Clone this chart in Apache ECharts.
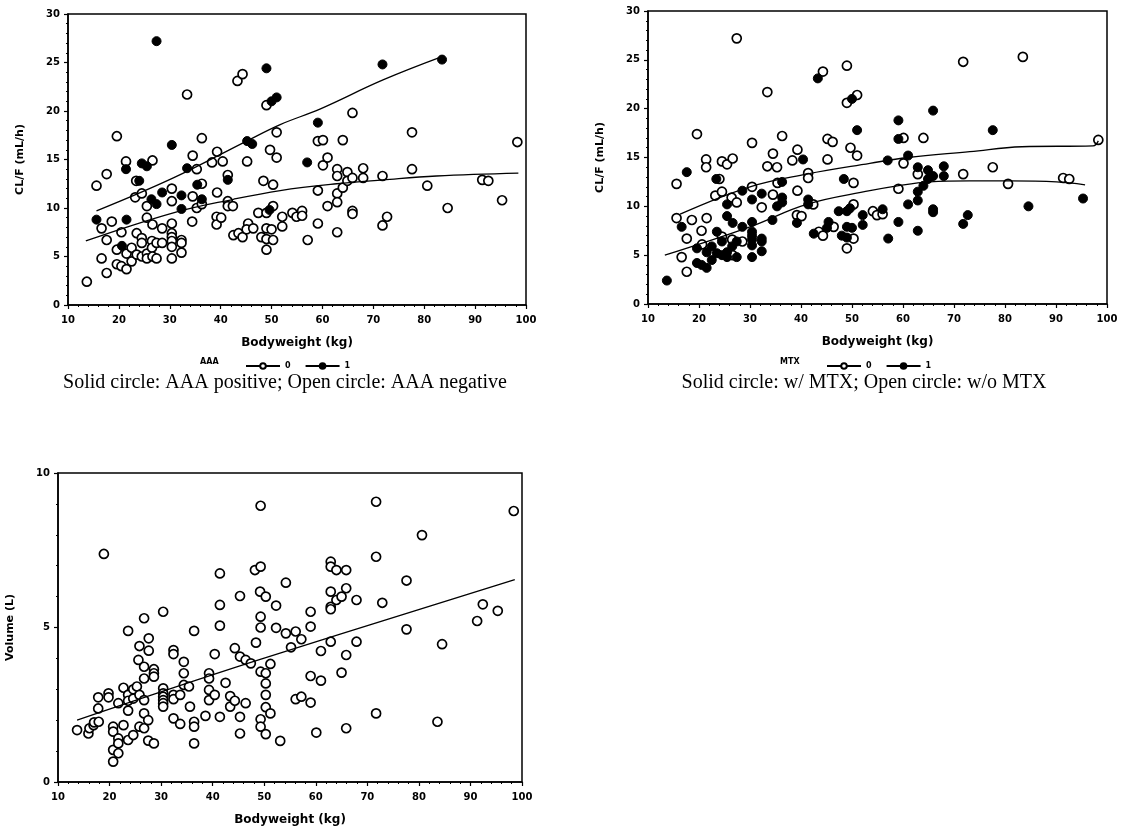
<!DOCTYPE html>
<html><head><meta charset="utf-8">
<script src="https://cdn.jsdelivr.net/npm/echarts@6/dist/echarts.min.js"></script>
<style>html,body{margin:0;padding:0;background:#fff}#c{width:1124px;height:827px}</style>
</head><body><div id="c"></div><script>
// ---- Clearance data (same patients in plot 1 and plot 2) ----
const bodyweight = [
  13.7,15.6,15.6,16.6,16.6,17.6,17.6,17.6,18.6,19.6,
  19.6,19.6,20.5,20.6,20.5,21.4,21.4,21.5,21.5,21.5,
  22.5,22.5,23.2,23.4,23.5,23.5,24.0,24.5,24.5,24.5,
  24.5,24.5,25.5,25.5,25.5,25.5,25.5,26.4,26.5,26.5,
  26.6,26.6,26.6,27.4,27.4,27.4,27.4,28.5,28.5,28.5,
  30.4,30.4,30.4,30.4,30.4,30.4,30.4,30.4,30.4,32.3,
  32.3,32.3,32.3,32.3,33.4,33.4,34.5,34.5,34.4,35.3,
  35.4,35.3,36.3,36.3,36.3,36.3,38.3,39.3,39.3,39.2,
  39.2,40.1,40.4,41.4,41.4,41.4,41.4,42.4,42.5,43.3,
  43.5,44.3,44.3,45.2,45.2,45.4,45.1,46.2,46.4,47.4,
  48.0,48.4,49.0,49.0,49.0,49.0,49.0,49.0,49.6,49.7,
  50.0,50.0,50.3,50.3,50.3,51.0,51.0,51.0,52.1,52.1,
  54.1,54.9,56.0,56.0,57.0,57.1,59.1,59.1,59.1,59.1,
  60.1,60.1,61.0,61.0,62.9,62.9,62.9,62.9,62.9,64.0,
  64.0,64.9,64.9,65.9,65.9,65.9,65.9,68.0,68.0,71.8,
  71.8,71.8,72.7,77.6,77.6,80.6,83.5,84.6,91.4,92.6,95.3,98.3
];
const clearance = [
  2.4,12.3,8.8,7.9,4.8,13.5,6.7,3.3,8.6,17.4,
  5.7,4.2,7.5,6.1,4.0,14.8,14.0,8.8,5.3,3.7,
  5.9,4.5,11.1,12.8,7.4,5.2,12.8,14.6,11.5,6.9,
  6.4,5.0,14.3,10.2,9.0,5.3,4.8,10.9,6.6,5.9,
  14.9,8.3,5.0,27.2,10.4,6.4,4.8,11.6,7.9,6.4,
  16.5,12.0,10.7,8.4,7.4,7.0,6.6,6.0,4.8,11.3,
  9.9,6.7,6.4,5.4,21.7,14.1,15.4,11.2,8.6,14.0,
  12.4,10.0,17.2,12.5,10.9,10.4,14.7,15.8,11.6,9.1,
  8.3,9.0,14.8,13.4,12.9,10.7,10.2,10.2,7.2,23.1,
  7.4,23.8,7.0,16.9,14.8,8.4,7.8,16.6,7.9,9.5,
  7.0,12.8,24.4,20.6,9.5,7.9,6.8,5.7,9.8,16.0,
  21.0,7.8,12.4,10.2,6.7,21.4,17.8,15.2,9.1,8.1,
  9.5,9.1,9.7,9.2,14.7,6.7,18.8,16.9,11.8,8.4,
  17.0,14.4,15.2,10.2,14.0,13.3,11.5,10.6,7.5,17.0,
  12.1,13.7,12.8,19.8,13.1,9.7,9.4,14.1,13.1,24.8,
  13.3,8.2,9.1,17.8,14.0,12.3,25.3,10.0,12.9,12.8,10.8,16.8
];
const aaaPositive = [
  0,0,1,0,0,0,0,0,0,0,
  0,0,0,1,0,0,1,1,0,0,
  0,0,0,0,0,0,1,1,0,0,
  0,0,1,0,0,0,0,1,0,0,
  0,0,0,1,1,0,0,1,0,0,
  1,0,0,0,0,0,0,0,0,1,
  1,0,0,0,0,1,0,0,0,0,
  1,0,0,0,1,0,0,0,0,0,
  0,0,0,0,1,0,0,0,0,0,
  0,0,0,1,0,0,0,1,0,0,
  0,0,1,0,0,0,0,0,1,0,
  1,0,0,0,0,1,0,0,0,0,
  0,0,0,0,1,0,1,0,0,0,
  0,0,0,0,0,0,0,0,0,0,
  0,0,0,0,0,0,0,0,0,1,
  0,0,0,0,0,0,1,0,0,0,0,0
];
const withMTX = [
  1,0,0,1,0,1,0,0,0,0,
  1,1,0,0,1,0,0,0,1,1,
  1,1,0,1,1,1,0,0,0,0,
  1,1,0,1,1,1,1,0,0,1,
  0,1,0,0,0,1,1,1,1,0,
  0,0,1,1,1,1,1,1,1,1,
  0,1,1,1,0,0,0,0,1,0,
  0,1,0,1,1,1,0,0,0,0,
  1,0,1,0,0,1,1,0,1,1,
  0,0,0,0,0,1,1,0,0,1,
  1,1,0,0,1,1,1,0,1,0,
  1,1,0,0,0,0,1,0,1,1,
  0,0,1,0,1,1,1,1,0,1,
  0,0,1,1,1,0,1,1,1,0,
  1,1,1,1,1,1,1,1,1,0,
  0,1,1,1,0,0,0,1,0,0,1,0
];
// fitted curves
const fitAAA0 = [[13.5,6.6],[30.7,9.5],[42.5,10.9],[51.7,11.8],[62.8,12.5],[71.9,12.9],[82.4,13.3],[98.5,13.6]];
const fitAAA1 = [[15.6,9.7],[30.7,13.1],[45.1,16.9],[51.7,18.6],[59.5,20.2],[71.9,23.2],[83.5,25.6]];
const fitMTX0 = [[16.3,9.2],[30.0,12.0],[41.1,13.3],[53.5,14.4],[60.9,15.0],[73.1,15.6],[83.3,16.1],[97.3,16.2],[98.3,16.7]];
const fitMTX1 = [[13.3,5.0],[30.0,7.9],[41.1,10.2],[53.5,11.6],[58.9,12.1],[65.2,12.5],[73.1,12.6],[80.8,12.6],[90.1,12.5],[95.7,12.2]];

// ---- Volume data (plot 3) ----
const volBodyweight = [
  13.7,15.9,16.1,16.9,17.0,17.9,17.8,17.8,18.9,19.8,19.8,20.7,20.7,20.7,20.7,21.7,21.7,21.7,21.7,22.7,
  22.7,23.6,23.6,23.6,23.6,23.6,24.6,24.6,24.6,25.3,25.6,25.8,25.8,25.8,26.7,26.7,26.7,26.7,26.7,26.7,
  27.5,27.5,27.6,27.6,28.6,28.6,28.6,28.6,30.4,30.4,30.4,30.4,30.4,30.4,30.4,32.4,32.4,32.4,32.4,32.4,
  33.7,33.7,34.4,34.4,34.4,35.4,35.6,36.4,36.4,36.4,36.4,38.6,39.3,39.3,39.3,39.3,40.4,40.4,41.4,41.4,
  41.4,41.4,42.5,43.4,43.4,44.3,44.3,45.3,45.3,45.3,45.3,46.4,46.4,47.4,48.2,48.4,49.3,49.3,49.2,49.3,
  49.3,49.3,49.3,49.3,50.3,50.3,50.3,50.3,50.3,50.3,51.2,51.2,52.3,52.3,53.1,54.2,54.2,55.2,56.1,56.1,
  57.2,57.2,59.0,59.0,59.0,59.0,60.1,61.0,61.0,62.9,62.9,62.9,62.9,62.9,62.9,64.0,64.0,65.0,65.0,65.9,
  65.9,65.9,65.9,67.9,67.9,71.7,71.7,71.7,72.9,77.6,77.6,80.6,83.6,84.5,91.3,92.4,95.3,98.4
];
const volume = [
  1.68,1.57,1.74,1.84,1.93,1.95,2.38,2.74,7.38,2.87,2.74,1.79,1.63,1.04,0.66,0.93,1.41,1.25,2.55,1.84,
  3.05,4.89,2.82,2.63,2.31,1.36,3.00,2.70,1.52,3.09,3.95,4.40,2.82,1.79,5.30,3.73,3.35,2.65,2.22,1.74,
  2.00,1.34,4.65,4.25,3.65,3.52,3.41,1.25,5.51,3.03,2.87,2.76,2.65,2.55,2.44,4.27,4.14,2.82,2.68,2.06,
  2.82,1.88,3.89,3.52,3.14,3.09,2.44,4.89,1.95,1.79,1.25,2.14,3.52,3.35,2.98,2.65,4.14,2.82,6.75,5.73,
  5.06,2.11,3.21,2.78,2.44,4.33,2.63,6.02,4.06,2.11,1.57,3.95,2.55,3.84,6.86,4.51,8.94,6.97,6.16,5.35,
  5.00,3.57,2.03,1.79,6.00,3.52,3.19,2.82,2.42,1.55,3.82,2.22,5.71,4.99,1.33,6.45,4.81,4.36,4.87,2.68,
  4.62,2.76,5.51,5.03,3.43,2.57,1.60,4.24,3.28,7.13,6.97,6.16,5.67,5.59,4.54,6.86,5.89,6.00,3.54,6.86,
  6.27,4.11,1.74,5.89,4.54,9.07,7.29,2.22,5.80,6.52,4.94,7.99,1.95,4.46,5.21,5.75,5.54,8.77
];
const fitVolume = [[13.7,2.0],[48.0,3.9],[98.6,6.55]];

// ---- axis settings ----
const xMin = 10, xMax = 100, xStep = 10;
const clMax = 30, clStep = 5;
const volMax = 10, volStep = 5;

// ---- build ----
const pts = (flagArr, val) => bodyweight.map((b, i) => [b, clearance[i]]).filter((_, i) => flagArr[i] === val);
const volPts = volBodyweight.map((b, i) => [b, volume[i]]);

const AX = 'DejaVu Sans';
const openStyle = {color: '#fff', borderColor: '#000', borderWidth: 1.7, opacity: 1};
const fillStyle = {color: '#000', borderColor: '#000', borderWidth: 1, opacity: 1};

function xAx(g) {
  return {
    gridIndex: g, type: 'value', min: xMin, max: xMax, interval: xStep,
    name: 'Bodyweight (kg)', nameLocation: 'middle', nameGap: 32,
    nameTextStyle: {fontFamily: AX, fontWeight: 'bold', fontSize: 12, color: '#000'},
    axisLine: {show: true, lineStyle: {color: '#000', width: 1.5}},
    axisTick: {show: true, inside: false, length: 4, lineStyle: {color: '#000', width: 1.2}},
    minorTick: {show: true, splitNumber: 5, length: 2, lineStyle: {color: '#000', width: 1}},
    axisLabel: {margin: 10, fontFamily: AX, fontWeight: 'bold', fontSize: 10, color: '#000'},
    splitLine: {show: false}
  };
}
function yAx(g, max, step, name, gap) {
  return {
    gridIndex: g, type: 'value', min: 0, max: max, interval: step,
    name: name, nameLocation: 'middle', nameRotate: 90, nameGap: gap,
    nameTextStyle: {fontFamily: AX, fontWeight: 'bold', fontSize: 11, color: '#000'},
    axisLine: {show: true, lineStyle: {color: '#000', width: 1.5}},
    axisTick: {show: true, inside: false, length: 4, lineStyle: {color: '#000', width: 1.2}},
    minorTick: {show: true, splitNumber: 5, length: 2, lineStyle: {color: '#000', width: 1}},
    axisLabel: {margin: 8, fontFamily: AX, fontWeight: 'bold', fontSize: 10, color: '#000'},
    splitLine: {show: false}
  };
}
function scatter(name, g, data, style) {
  return {name: name, type: 'scatter', xAxisIndex: g, yAxisIndex: g, data: data,
    symbol: 'circle', symbolSize: 9, itemStyle: style, silent: true, z: 3};
}
function fit(name, g, data, style) {
  return {name: name, type: 'line', xAxisIndex: g, yAxisIndex: g, data: data,
    smooth: 0.4, showSymbol: false, symbol: 'circle', symbolSize: 6,
    itemStyle: style, lineStyle: {color: '#000', width: 1.3}, silent: true, z: 4};
}
const gridBase = {show: true, borderColor: '#000', borderWidth: 1.5, backgroundColor: '#fff'};
const legendBase = {
  itemWidth: 34, itemHeight: 7, itemGap: 14, orient: 'horizontal',
  textStyle: {fontFamily: AX, fontWeight: 'bold', fontSize: 8, color: '#000'},
  formatter: n => n.split('=')[1], selectedMode: false
};

const chart = echarts.init(document.getElementById('c'), null, {renderer: 'canvas'});
chart.setOption({
  animation: false,
  backgroundColor: '#fff',
  grid: [
    Object.assign({left: 68, top: 14, width: 458, height: 291}, gridBase),
    Object.assign({left: 648, top: 11, width: 459, height: 293}, gridBase),
    Object.assign({left: 58, top: 473, width: 464, height: 309}, gridBase)
  ],
  xAxis: [xAx(0), xAx(1), xAx(2)],
  yAxis: [
    yAx(0, clMax, clStep, 'CL/F (mL/h)', 42),
    yAx(1, clMax, clStep, 'CL/F (mL/h)', 42),
    yAx(2, volMax, volStep, 'Volume (L)', 42)
  ],
  legend: [
    Object.assign({data: ['AAA=0', 'AAA=1'], left: 240, top: 357}, legendBase),
    Object.assign({data: ['MTX=0', 'MTX=1'], left: 821, top: 357}, legendBase)
  ],
  graphic: [
    {type: 'text', left: 200, top: 358, style: {text: 'AAA', font: 'bold 8px "DejaVu Sans"', fill: '#000'}},
    {type: 'text', left: 780, top: 358, style: {text: 'MTX', font: 'bold 8px "DejaVu Sans"', fill: '#000'}},
    {type: 'text', x: 285, y: 383, style: {text: 'Solid circle: AAA positive; Open circle: AAA negative',
      font: '20px "Liberation Serif"', fill: '#000', align: 'center', verticalAlign: 'middle'}},
    {type: 'text', x: 864, y: 383, style: {text: 'Solid circle: w/ MTX; Open circle: w/o MTX',
      font: '20px "Liberation Serif"', fill: '#000', align: 'center', verticalAlign: 'middle'}}
  ],
  series: [
    scatter('AAA negative', 0, pts(aaaPositive, 0), openStyle),
    scatter('AAA positive', 0, pts(aaaPositive, 1), fillStyle),
    fit('AAA=0', 0, fitAAA0, openStyle),
    fit('AAA=1', 0, fitAAA1, fillStyle),
    scatter('w/o MTX', 1, pts(withMTX, 0), openStyle),
    scatter('w/ MTX', 1, pts(withMTX, 1), fillStyle),
    fit('MTX=0', 1, fitMTX0, openStyle),
    fit('MTX=1', 1, fitMTX1, fillStyle),
    scatter('Volume', 2, volPts, openStyle),
    fit('Volume fit', 2, fitVolume, openStyle)
  ]
});
</script></body></html>
